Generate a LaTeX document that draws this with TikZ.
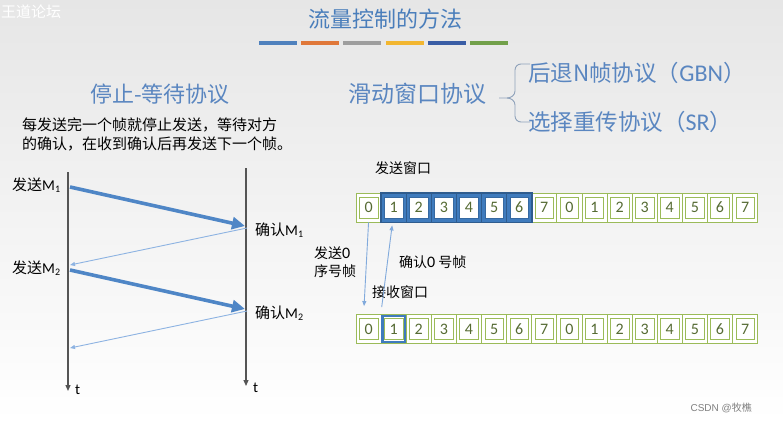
\documentclass[tikz,border=0pt]{standalone}
\usepackage{fontspec}
\setmainfont{Noto Sans CJK SC}
\newfontfamily\lat{Carlito}
\newfontfamily\arialf{Liberation Sans}
\usetikzlibrary{arrows.meta}
\definecolor{bgtop}{HTML}{E6E6E6}
\definecolor{bgmid}{HTML}{F6F6F6}
\definecolor{titleblue}{HTML}{4A7EBB}
\definecolor{subblue}{HTML}{5A86C0}
\definecolor{barblue}{HTML}{4F81BD}
\definecolor{barorange}{HTML}{E0783A}
\definecolor{bargray}{HTML}{9E9E9E}
\definecolor{baryellow}{HTML}{F2B630}
\definecolor{bardkblue}{HTML}{3A5DA5}
\definecolor{bargreen}{HTML}{72A04A}
\definecolor{cellgreen}{HTML}{9BBB59}
\definecolor{digitgreen}{HTML}{566B33}
\definecolor{winblue}{HTML}{3F7BBD}
\definecolor{arrblue}{HTML}{4F86C6}
\definecolor{thinblue}{HTML}{8DB3E2}
\definecolor{linegray}{HTML}{555555}
\definecolor{bracegray}{HTML}{8FA2BA}
\newcommand{\myfs}[1]{\fontsize{#1}{#1}\selectfont}
\newcommand{\subn}[1]{\raisebox{-0.3ex}{\lat\fontsize{10}{10}\selectfont #1}}
\tikzset{
  lbl/.style={inner sep=0pt, font=\myfs{15}, text=black},
  cellbox/.style={rectangle, draw=cellgreen, line width=0.8pt, fill=white,
    minimum width=25.1pt, minimum height=29pt, inner sep=0pt},
  cellin/.style={rectangle, draw=cellgreen, line width=0.6pt, fill=white,
    minimum width=18.5pt, minimum height=21pt, inner sep=0pt,
    text=digitgreen, font=\lat\myfs{16}},
  wincell/.style={cellbox, draw=winblue!75!black, fill=winblue},
  wincellin/.style={cellin, draw=winblue!85!black},
  thickarr/.style={arrblue, line width=3.6pt, -{Triangle[length=13pt,width=12pt]}},
  thinarr/.style={thinblue, line width=0.9pt, -{Triangle[length=5pt,width=4pt]}},
  winarr/.style={thinblue!80!arrblue, line width=0.9pt, -{Triangle[length=5pt,width=4pt]}},
  timeline/.style={linegray, line width=1.3pt, -{Triangle[length=6pt,width=5pt]}},
  bar/.style={minimum width=38pt, minimum height=4pt, inner sep=0pt}
}
\begin{document}
\begin{tikzpicture}[x=1pt,y=-1pt]
\useasboundingbox (0,0) rectangle (783,422);
\shade[top color=bgtop, middle color=bgmid, bottom color=white] (0,0) rectangle (783,422);
% watermark
\node[anchor=west, inner sep=0pt, text=white, font=\myfs{15}] (wm) at (1,12) {王道论坛};
% title
\node[inner sep=0pt, text=titleblue, font=\myfs{22}] (title) at (385,19) {流量控制的方法};
\foreach \c [count=\k from 0] in {barblue,barorange,bargray,baryellow,bardkblue,bargreen}{
  \node[bar, fill=\c] (bar\k) at (278+42.2*\k,43.5) {};
}
% subtitles
\node[inner sep=0pt, text=subblue, font=\myfs{22}] (sw) at (160,94) {停止-等待协议};
\node[inner sep=0pt, text=subblue, font=\myfs{23}] (sl) at (417,94) {滑动窗口协议};
\node[anchor=west, inner sep=0pt, text=subblue, font=\myfs{22.5}] (gbn) at (528,73) {后退N帧协议（{\lat\myfs{24}GBN}）};
\node[anchor=west, inner sep=0pt, text=subblue, font=\myfs{22.5}] (sr) at (528,122) {选择重传协议（{\lat\myfs{24}SR}）};
\draw[bracegray, line width=0.9pt] (530,64) -- (521,64) to[out=180,in=90] (515,70) -- (515,91)
  to[out=270,in=0] (507,98) -- (499,98);
\draw[bracegray, line width=0.9pt] (507,98) to[out=0,in=90] (515,105) -- (515,116)
  to[out=270,in=180] (521,122) -- (530,122);
% description
\node[anchor=west, lbl] (d1) at (22,125) {每发送完一个帧就停止发送，等待对方};
\node[anchor=west, lbl] (d2) at (22,144) {的确认，在收到确认后再发送下一个帧。};
% timelines
\coordinate (Lt) at (68,172);
\coordinate (Lb) at (68,391);
\coordinate (Rt) at (246,168);
\coordinate (Rb) at (246,386);
\draw[timeline] (Lt) -- (Lb);
\draw[timeline] (Rt) -- (Rb);
\node[anchor=west, inner sep=0pt, font=\lat\myfs{15}] (tL) at (75,390) {t};
\node[anchor=west, inner sep=0pt, font=\lat\myfs{15}] (tR) at (253,388) {t};
\node[anchor=west, lbl] (m1) at (12,185) {发送{\lat M}\subn{1}};
\node[anchor=west, lbl] (m2) at (12,268) {发送{\lat M}\subn{2}};
\node[anchor=west, lbl] (a1) at (255,230) {确认{\lat M}\subn{1}};
\node[anchor=west, lbl] (a2) at (255,313) {确认{\lat M}\subn{2}};
\coordinate (s1a) at (70,187);
\coordinate (s1b) at (245,226);
\coordinate (k1a) at (247,228);
\coordinate (k1b) at (70,265);
\coordinate (s2a) at (70,270);
\coordinate (s2b) at (245,309);
\coordinate (k2a) at (247,311);
\coordinate (k2b) at (70,348);
\draw[thickarr] (s1a) -- (s1b);
\draw[thinarr] (k1a) -- (k1b);
\draw[thickarr] (s2a) -- (s2b);
\draw[thinarr] (k2a) -- (k2b);
% send window row
\foreach \i in {0,...,15}{
  \pgfmathtruncatemacro\d{mod(\i,8)}
  \pgfmathsetmacro\cx{368.55+25.1*\i}
  \node[cellbox] (s\i) at (\cx,207.5) {};
  \node[cellin] (si\i) at (s\i.center) {\d};
}
\foreach \i in {1,...,6}{
  \pgfmathsetmacro\cx{368.55+25.1*\i}
  \node[wincell] (w\i) at (\cx,207.5) {};
  \node[wincellin] (wi\i) at (w\i.center) {\i};
}
\draw[winblue!75!black, line width=1pt] (w1.north west) rectangle (w6.south east);
% receive window row
\foreach \i in {0,...,15}{
  \pgfmathtruncatemacro\d{mod(\i,8)}
  \pgfmathsetmacro\cx{368.55+25.1*\i}
  \node[cellbox] (r\i) at (\cx,329) {};
  \node[cellin] (ri\i) at (r\i.center) {\d};
}
\draw[winblue, line width=2.6pt] ([shift={(1.8pt,-1.8pt)}]r1.north west) rectangle ([shift={(-1.8pt,1.8pt)}]r1.south east);
% labels
\node[anchor=west, lbl, font=\myfs{14}] (swl) at (375,168) {发送窗口};
\node[anchor=west, lbl, font=\myfs{14}] (sd1) at (314,253) {发送{\lat\myfs{16}0}};
\node[anchor=west, lbl, font=\myfs{14}] (sd2) at (314,271) {序号帧};
\node[anchor=west, lbl, font=\myfs{14}] (ack0) at (399,262) {确认{\lat\myfs{16}0} 号帧};
\node[anchor=west, lbl, font=\myfs{14}] (rwl) at (372,292) {接收窗口};
\draw[winarr] (s0.south) -- ([xshift=-4.5pt,yshift=8pt]r0.north);
\draw[winarr] ([xshift=1pt,yshift=7pt]r1.north west) -- ([xshift=-1.5pt,yshift=-3pt]s1.south);
% credit
\node[anchor=east, inner sep=0pt, text=gray, font=\arialf\myfs{10}] (csdn) at (752,408) {CSDN @{\rmfamily 牧樵}};
\end{tikzpicture}
\end{document}
